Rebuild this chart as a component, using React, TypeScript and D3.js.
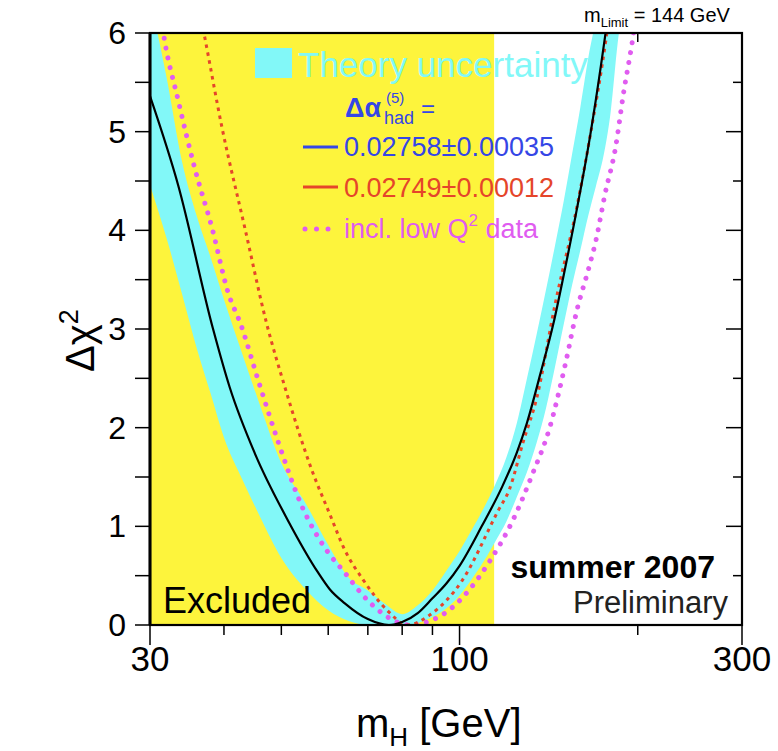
import * as d3 from "d3";

// Δχ² vs Higgs mass (LEP EWWG style blue-band plot)
const massMajor = [30, 100, 300];
const massMinor = [40, 50, 60, 70, 80, 90, 200];
const chiMajor = [0, 1, 2, 3, 4, 5, 6];
const chiMinor = [0.5, 1.5, 2.5, 3.5, 4.5, 5.5];
const excludedBelow = 114.4;

// theory uncertainty band, lower and upper edge on a common mass grid
const bandMass = [30, 32, 34, 36, 38, 40, 43, 46, 50, 55, 60, 65, 70, 75, 80, 85, 90, 95, 100, 105, 110, 115, 120, 125, 130, 135, 140, 145, 150, 155, 160, 165, 170, 175, 180, 185, 190];
const bandHigh = [6.35, 5.55, 4.69, 4.14, 3.72, 3.3, 2.74, 2.23, 1.64, 1.23, 0.81, 0.48, 0.35, 0.21, 0.11, 0.2, 0.35, 0.55, 0.75, 0.97, 1.19, 1.43, 1.7, 2.05, 2.5, 2.95, 3.4, 3.85, 4.3, 4.78, 5.25, 5.75, 6.15, 6.6, 7.0, 7.4, 7.8];
const bandLow = [4.46, 3.92, 3.35, 2.8, 2.34, 1.9, 1.47, 1.1, 0.68, 0.36, 0.15, 0.04, 0, 0, 0, 0.02, 0.08, 0.17, 0.3, 0.47, 0.65, 0.85, 1.05, 1.3, 1.55, 1.85, 2.2, 2.62, 3.05, 3.45, 3.8, 4.15, 4.45, 4.75, 5.2, 5.9, 6.4];

// central curve, 0.02758±0.00035
const blackMass = [30, 33.5, 38.3, 40.9, 45.1, 51.3, 57.7, 60.4, 64, 70, 76, 80, 85, 90, 95, 100, 109, 118, 125, 130, 137, 144, 150, 158, 166, 176, 182];
const blackChi = [5.36, 4.45, 3.01, 2.41, 1.74, 1.06, 0.53, 0.36, 0.22, 0.06, 0, 0.03, 0.12, 0.27, 0.42, 0.6, 1.0, 1.4, 1.75, 2.05, 2.55, 3.05, 3.55, 4.23, 4.94, 5.95, 6.6];

// 0.02749±0.00012
const redMass = [36, 37, 39.7, 43.4, 47.2, 50.7, 56.3, 60.4, 64, 68.7, 76, 81.5, 89, 101, 116, 121.5, 128, 135, 145, 158, 166, 176.7, 182];
const redChi = [6.36, 6.0, 5.04, 4.02, 3.06, 2.41, 1.57, 1.12, 0.76, 0.46, 0.13, 0, 0.1, 0.45, 1.15, 1.38, 1.85, 2.3, 3.25, 4.25, 4.94, 5.93, 6.5];

// incl. low Q² data
const magMass = [31, 31.6, 33.5, 35.7, 38.2, 40.6, 42.8, 45.7, 49.3, 54.2, 59.9, 64, 68.7, 74, 78.4, 83, 89, 95, 104, 112, 123, 133, 142, 150.6, 158, 165, 170, 176, 183.7, 189, 196, 200];
const magChi = [6.35, 6.0, 5.31, 4.63, 4.02, 3.38, 3.03, 2.48, 1.87, 1.2, 0.74, 0.53, 0.3, 0.12, 0.03, 0, 0.04, 0.13, 0.36, 0.63, 1.06, 1.54, 2.0, 2.62, 3.2, 3.6, 3.9, 4.36, 4.86, 5.37, 5.93, 6.3];

const YELLOW = "#fdf43c";
const CYAN = "#82f8f8";
const BLUE = "#3546e6";
const RED = "#e5452a";
const MAGENTA = "#e05cf0";
const FONT = "'Liberation Sans', Arial, Helvetica, sans-serif";

export default function App() {
  const left = 150, right = 742, top = 33, bottom = 625;
  const x = d3.scaleLog().domain([30, 300]).range([left, right]);
  const y = d3.scaleLinear().domain([0, 6]).range([bottom, top]);

  const zip = (ms: number[], cs: number[]) => ms.map((m, i) => [m, cs[i]] as [number, number]);
  const line = d3.line<[number, number]>().x(d => x(d[0])).y(d => y(d[1])).curve(d3.curveMonotoneX);
  const band = d3.area<number>()
    .x(m => x(m))
    .y0((_, i) => y(bandLow[i]))
    .y1((_, i) => y(bandHigh[i]))
    .curve(d3.curveMonotoneX);

  return (
    <svg width={778} height={751} style={{ position: "absolute", left: 0, top: 0, background: "#fff" }} fontFamily={FONT}>
      <defs>
        <clipPath id="plot">
          <rect x={left} y={top} width={right - left} height={bottom - top} />
        </clipPath>
      </defs>

      {/* inner ticks on right and top, under the fill */}
      {chiMajor.map(v => (
        <line key={"r" + v} x1={right - 16} x2={right} y1={y(v)} y2={y(v)} stroke="#000" strokeWidth={1.5} />
      ))}
      {chiMinor.map(v => (
        <line key={"rm" + v} x1={right - 9} x2={right} y1={y(v)} y2={y(v)} stroke="#000" strokeWidth={1.5} />
      ))}
      {massMajor.concat(massMinor).map(m => (
        <line key={"t" + m} x1={x(m)} x2={x(m)} y1={top} y2={top + (massMajor.includes(m) ? 14 : 9)} stroke="#000" strokeWidth={1.5} />
      ))}

      <rect x={left} y={top} width={x(excludedBelow) - left} height={bottom - top} fill={YELLOW} />

      <g clipPath="url(#plot)">
        <path d={band(bandMass) ?? ""} fill={CYAN} />
        <path d={line(zip(magMass, magChi)) ?? ""} fill="none" stroke={MAGENTA} strokeWidth={5} strokeDasharray="0.01 10" strokeLinecap="round" />
        <path d={line(zip(redMass, redChi)) ?? ""} fill="none" stroke={RED} strokeWidth={3} strokeDasharray="3.5 4.5" />
        <path d={line(zip(blackMass, blackChi)) ?? ""} fill="none" stroke="#000" strokeWidth={2.2} />
      </g>

      {/* legend */}
      <rect x={255} y={48} width={37} height={30} fill={CYAN} />
      <text x={298} y={77} fontSize={35} fill={CYAN}>Theory uncertainty</text>
      <text x={345} y={117} fontSize={27} fontWeight="bold" fill={BLUE}>Δα</text>
      <text x={386} y={103} fontSize={15} fill={BLUE}>(5)</text>
      <text x={384} y={124} fontSize={18} fill={BLUE}>had</text>
      <text x={421} y={117} fontSize={24} fill={BLUE}>=</text>
      <line x1={303} x2={338} y1={147} y2={147} stroke={BLUE} strokeWidth={3} />
      <text x={344} y={156} fontSize={27} fill={BLUE}>0.02758±0.00035</text>
      <line x1={303} x2={338} y1={187} y2={187} stroke={RED} strokeWidth={3} />
      <text x={344} y={197} fontSize={27} fill={RED}>0.02749±0.00012</text>
      <line x1={305} x2={330} y1={229} y2={229} stroke={MAGENTA} strokeWidth={5} strokeDasharray="0.01 11.5" strokeLinecap="round" />
      <text x={344} y={238} fontSize={27} fill={MAGENTA}>
        incl. low Q<tspan fontSize={17} dy={-12}>2</tspan><tspan dy={12}> data</tspan>
      </text>

      <text x={163} y={613} fontSize={36} fill="#000">Excluded</text>
      <text x={715} y={578} fontSize={32} fontWeight="bold" fill="#000" textAnchor="end">summer 2007</text>
      <text x={728} y={613} fontSize={31} fill="#222" textAnchor="end">Preliminary</text>

      {/* frame */}
      <rect x={left} y={top} width={right - left} height={bottom - top} fill="none" stroke="#000" strokeWidth={2.2} />
      <line x1={left} x2={left} y1={top} y2={bottom} stroke="#000" strokeWidth={3} />

      {/* y axis */}
      {chiMajor.concat(chiMinor).map(v => (
        <line key={"y" + v} x1={left - 15} x2={left} y1={y(v)} y2={y(v)} stroke="#000" strokeWidth={1.5} />
      ))}
      {chiMajor.map(v => (
        <text key={"yl" + v} x={126} y={y(v) + 11} fontSize={32} textAnchor="end" fill="#000">{v}</text>
      ))}

      {/* x axis */}
      {massMajor.map(m => (
        <line key={"x" + m} x1={x(m)} x2={x(m)} y1={bottom} y2={bottom + 20} stroke="#000" strokeWidth={1.5} />
      ))}
      {massMinor.map(m => (
        <line key={"xm" + m} x1={x(m)} x2={x(m)} y1={bottom} y2={bottom + 10} stroke="#000" strokeWidth={1.5} />
      ))}
      {massMajor.map(m => (
        <text key={"xl" + m} x={x(m)} y={671} fontSize={35} textAnchor="middle" fill="#000">{m}</text>
      ))}

      <text x={356} y={737} fontSize={40} fill="#000">
        m<tspan fontSize={26} dy={9}>H</tspan><tspan dy={-9}> [GeV]</tspan>
      </text>
      <text transform="translate(94,372) rotate(-90)" fontSize={40} fill="#000">
        Δχ<tspan fontSize={27} dy={-16}>2</tspan>
      </text>

      <text x={584} y={22} fontSize={20} fill="#000">
        m<tspan fontSize={13} dy={5}>Limit</tspan><tspan dy={-5}> = 144 GeV</tspan>
      </text>
    </svg>
  );
}
